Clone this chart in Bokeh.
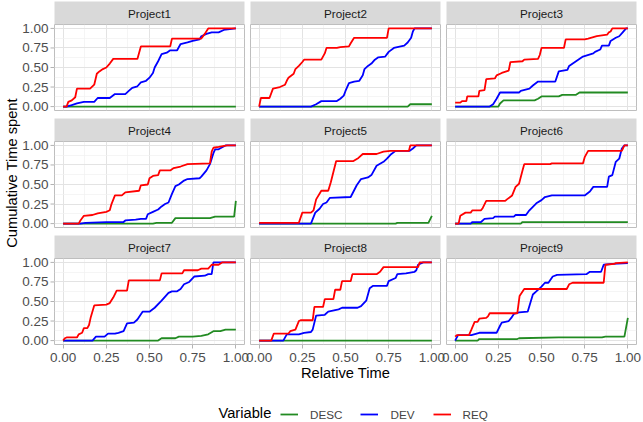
import math
from bokeh.plotting import figure
from bokeh.models import Range1d, FixedTicker, Label, Legend, LegendItem
from bokeh.core.properties import value
from bokeh.layouts import row, column
from bokeh.embed import file_html
from bokeh.resources import INLINE

PROJECTS = ["Project1", "Project2", "Project3", "Project4", "Project5",
            "Project6", "Project7", "Project8", "Project9"]
VARIABLES = ["DESC", "DEV", "REQ"]
COLORS = ["#228B22", "#0000FF", "#FF0000"]
TICKS = [0.0, 0.25, 0.5, 0.75, 1.0]
TICK_LABELS = ["0.00", "0.25", "0.50", "0.75", "1.00"]
MINOR_TICKS = [0.125, 0.375, 0.625, 0.875]

# (relative time, cumulative time spent) points
P1_DESC = [(0, 0), (1, 0)]
P1_DEV = [(0, 0), (0.02, 0), (0.05, 0.02), (0.08, 0.04), (0.12, 0.06), (0.18, 0.06), (0.20, 0.11), (0.27, 0.11),
          (0.30, 0.16), (0.36, 0.16), (0.38, 0.20), (0.40, 0.24), (0.43, 0.26), (0.45, 0.31), (0.48, 0.33),
          (0.50, 0.37), (0.52, 0.43), (0.53, 0.50), (0.55, 0.58), (0.57, 0.67), (0.60, 0.69), (0.62, 0.72),
          (0.66, 0.72), (0.68, 0.80), (0.72, 0.82), (0.75, 0.84), (0.79, 0.86), (0.80, 0.90), (0.83, 0.93),
          (0.86, 0.95), (0.90, 0.95), (0.93, 0.98), (1.0, 1.0)]
P1_REQ = [(0, 0), (0.02, 0), (0.03, 0.06), (0.05, 0.08), (0.07, 0.12), (0.08, 0.23), (0.156, 0.23), (0.18, 0.28),
          (0.195, 0.42), (0.21, 0.45), (0.23, 0.48), (0.25, 0.50), (0.27, 0.55), (0.29, 0.61), (0.43, 0.61),
          (0.45, 0.77), (0.62, 0.77), (0.63, 0.87), (0.80, 0.87), (0.82, 0.93), (0.84, 1.0), (1.0, 1.0)]

P2_DESC = [(0, 0), (0.86, 0), (0.875, 0.03), (1, 0.03)]
P2_DEV = [(0, 0), (0.30, 0), (0.33, 0.03), (0.36, 0.07), (0.45, 0.07), (0.47, 0.10), (0.49, 0.14), (0.50, 0.20),
          (0.52, 0.30), (0.55, 0.32), (0.58, 0.33), (0.60, 0.40), (0.61, 0.48), (0.63, 0.52), (0.65, 0.55),
          (0.67, 0.60), (0.69, 0.63), (0.73, 0.64), (0.75, 0.70), (0.78, 0.75), (0.80, 0.76), (0.84, 0.78),
          (0.86, 0.82), (0.88, 0.88), (0.89, 0.96), (0.90, 1.0), (1, 1)]
P2_REQ = [(0, 0), (0.01, 0.11), (0.06, 0.11), (0.08, 0.23), (0.12, 0.25), (0.15, 0.28), (0.16, 0.33), (0.17, 0.37),
          (0.20, 0.42), (0.21, 0.48), (0.23, 0.52), (0.25, 0.57), (0.26, 0.60), (0.36, 0.60), (0.38, 0.68),
          (0.39, 0.75), (0.45, 0.75), (0.47, 0.76), (0.52, 0.77), (0.53, 0.81), (0.55, 0.88), (0.74, 0.88),
          (0.75, 1.0), (1, 1)]

P3_DESC = [(0, 0), (0.25, 0), (0.26, 0.04), (0.28, 0.08), (0.46, 0.08), (0.48, 0.10), (0.50, 0.13), (0.60, 0.13),
           (0.62, 0.15), (0.70, 0.15), (0.72, 0.18), (1, 0.18)]
P3_DEV = [(0, 0), (0.20, 0), (0.22, 0.03), (0.24, 0.10), (0.26, 0.18), (0.37, 0.18), (0.38, 0.20), (0.43, 0.23),
          (0.45, 0.27), (0.48, 0.32), (0.58, 0.32), (0.60, 0.45), (0.65, 0.47), (0.66, 0.52), (0.70, 0.58),
          (0.74, 0.64), (0.80, 0.68), (0.81, 0.70), (0.84, 0.73), (0.85, 0.78), (0.89, 0.78), (0.90, 0.84),
          (0.93, 0.88), (0.95, 0.90), (0.97, 0.95), (0.99, 1.0), (1, 1)]
P3_REQ = [(0, 0.05), (0.03, 0.05), (0.04, 0.07), (0.065, 0.07), (0.07, 0.13), (0.135, 0.13), (0.14, 0.20),
          (0.17, 0.21), (0.18, 0.35), (0.23, 0.36), (0.24, 0.40), (0.27, 0.43), (0.31, 0.46), (0.32, 0.57),
          (0.39, 0.58), (0.40, 0.60), (0.48, 0.61), (0.49, 0.66), (0.50, 0.75), (0.63, 0.75), (0.64, 0.86),
          (0.75, 0.86), (0.77, 0.87), (0.82, 0.90), (0.88, 0.92), (0.89, 0.95), (0.90, 0.96), (0.91, 1.0), (1, 1)]

P4_DESC = [(0, 0), (0.52, 0), (0.54, 0.01), (0.63, 0.01), (0.65, 0.07), (0.85, 0.07), (0.88, 0.09), (0.99, 0.09),
           (1.0, 0.29)]
P4_DEV = [(0, 0), (0.10, 0), (0.13, 0.01), (0.25, 0.02), (0.35, 0.02), (0.36, 0.04), (0.42, 0.05), (0.45, 0.06),
          (0.48, 0.06), (0.49, 0.12), (0.52, 0.15), (0.55, 0.18), (0.57, 0.22), (0.59, 0.25), (0.61, 0.27),
          (0.63, 0.38), (0.65, 0.48), (0.67, 0.50), (0.70, 0.55), (0.72, 0.57), (0.79, 0.58), (0.80, 0.60),
          (0.83, 0.68), (0.85, 0.76), (0.87, 0.90), (0.88, 0.95), (0.90, 0.95), (0.94, 1.0), (1, 1)]
P4_REQ = [(0, 0), (0.09, 0), (0.10, 0.04), (0.12, 0.10), (0.17, 0.11), (0.20, 0.13), (0.25, 0.15), (0.27, 0.17),
          (0.28, 0.25), (0.30, 0.36), (0.34, 0.36), (0.36, 0.40), (0.44, 0.42), (0.45, 0.49), (0.49, 0.50),
          (0.50, 0.58), (0.52, 0.61), (0.55, 0.62), (0.56, 0.68), (0.62, 0.68), (0.64, 0.71), (0.68, 0.73),
          (0.72, 0.76), (0.85, 0.77), (0.86, 0.92), (0.87, 0.97), (0.90, 0.98), (0.95, 1.0), (1, 1)]

P5_DESC = [(0, 0), (0.79, 0), (0.80, 0.01), (0.98, 0.01), (1.0, 0.10)]
P5_DEV = [(0, 0), (0.30, 0), (0.325, 0.14), (0.35, 0.19), (0.37, 0.25), (0.39, 0.27), (0.41, 0.33), (0.53, 0.34),
          (0.565, 0.49), (0.59, 0.57), (0.63, 0.59), (0.65, 0.62), (0.68, 0.74), (0.72, 0.79), (0.74, 0.83),
          (0.76, 0.88), (0.79, 0.93), (0.87, 0.93), (0.89, 0.96), (0.91, 1.0), (1, 1)]
P5_REQ = [(0, 0.01), (0.23, 0.01), (0.25, 0.14), (0.30, 0.14), (0.315, 0.17), (0.33, 0.31), (0.36, 0.42),
          (0.40, 0.42), (0.415, 0.53), (0.446, 0.80), (0.546, 0.80), (0.575, 0.84), (0.60, 0.89), (0.68, 0.89),
          (0.72, 0.92), (0.76, 0.93), (0.867, 0.93), (0.875, 1.0), (1, 1)]

P6_DESC = [(0, 0), (0.38, 0), (0.39, 0.02), (1, 0.02)]
P6_DEV = [(0, 0), (0.09, 0), (0.10, 0.02), (0.15, 0.02), (0.17, 0.06), (0.22, 0.07), (0.23, 0.09), (0.34, 0.09),
          (0.35, 0.11), (0.41, 0.11), (0.43, 0.17), (0.47, 0.26), (0.50, 0.30), (0.52, 0.34), (0.56, 0.36),
          (0.75, 0.36), (0.78, 0.41), (0.80, 0.47), (0.88, 0.47), (0.89, 0.60), (0.91, 0.62), (0.93, 0.79),
          (0.95, 0.83), (0.965, 0.96), (0.98, 1.0), (1, 1)]
P6_REQ = [(0, 0), (0.02, 0), (0.03, 0.10), (0.06, 0.14), (0.09, 0.14), (0.10, 0.17), (0.15, 0.17), (0.16, 0.20),
          (0.18, 0.29), (0.29, 0.29), (0.30, 0.31), (0.33, 0.36), (0.35, 0.47), (0.37, 0.51), (0.39, 0.68),
          (0.40, 0.76), (0.55, 0.76), (0.56, 0.77), (0.74, 0.77), (0.75, 0.85), (0.77, 0.93), (0.965, 0.93),
          (0.98, 1.0), (1, 1)]

P7_DESC = [(0, 0), (0.55, 0), (0.57, 0.03), (0.65, 0.03), (0.67, 0.05), (0.75, 0.05), (0.80, 0.06), (0.84, 0.08),
           (0.87, 0.12), (0.91, 0.12), (0.94, 0.14), (1, 0.14)]
P7_DEV = [(0, 0), (0.17, 0), (0.19, 0.05), (0.24, 0.05), (0.26, 0.09), (0.30, 0.09), (0.32, 0.10), (0.35, 0.12),
          (0.37, 0.22), (0.41, 0.23), (0.43, 0.27), (0.46, 0.37), (0.50, 0.37), (0.53, 0.42), (0.57, 0.51),
          (0.61, 0.61), (0.63, 0.63), (0.66, 0.63), (0.68, 0.66), (0.70, 0.72), (0.73, 0.75), (0.76, 0.82),
          (0.82, 0.83), (0.84, 0.85), (0.86, 0.85), (0.87, 1.0), (1, 1)]
P7_REQ = [(0, 0), (0.01, 0.03), (0.02, 0.04), (0.08, 0.04), (0.09, 0.08), (0.11, 0.10), (0.12, 0.16), (0.14, 0.16),
          (0.15, 0.20), (0.16, 0.30), (0.18, 0.45), (0.25, 0.46), (0.27, 0.48), (0.29, 0.55), (0.31, 0.64),
          (0.37, 0.64), (0.38, 0.77), (0.56, 0.77), (0.57, 0.86), (0.69, 0.86), (0.70, 0.90), (0.78, 0.90),
          (0.80, 0.92), (0.84, 0.92), (0.86, 0.97), (0.90, 0.97), (0.92, 1.0), (1, 1)]

P8_DESC = [(0, 0), (1, 0)]
P8_DEV = [(0, 0), (0.14, 0), (0.16, 0.08), (0.23, 0.08), (0.26, 0.10), (0.30, 0.11), (0.31, 0.14), (0.33, 0.32),
          (0.38, 0.33), (0.40, 0.37), (0.44, 0.39), (0.46, 0.40), (0.48, 0.42), (0.57, 0.42), (0.59, 0.44),
          (0.62, 0.51), (0.64, 0.67), (0.66, 0.70), (0.74, 0.70), (0.75, 0.76), (0.79, 0.80), (0.80, 0.85),
          (0.85, 0.86), (0.90, 0.88), (0.91, 0.90), (0.92, 0.97), (0.95, 1.0), (1, 1)]
P8_REQ = [(0, 0), (0.07, 0), (0.085, 0.09), (0.17, 0.09), (0.18, 0.12), (0.21, 0.14), (0.23, 0.25), (0.24, 0.26),
          (0.31, 0.26), (0.32, 0.43), (0.37, 0.43), (0.38, 0.53), (0.43, 0.53), (0.44, 0.65), (0.47, 0.65),
          (0.48, 0.76), (0.53, 0.76), (0.54, 0.85), (0.68, 0.85), (0.70, 0.88), (0.72, 0.94), (0.92, 0.94),
          (0.93, 1.0), (1, 1)]

P9_DESC = [(0, 0), (0.13, 0), (0.14, 0.02), (0.36, 0.02), (0.37, 0.03), (0.60, 0.04), (0.85, 0.04), (0.87, 0.05),
           (0.98, 0.05), (1.0, 0.29)]
P9_DEV = [(0, 0), (0.017, 0.07), (0.094, 0.07), (0.14, 0.10), (0.24, 0.10), (0.26, 0.19), (0.27, 0.23),
          (0.31, 0.25), (0.325, 0.29), (0.34, 0.34), (0.37, 0.36), (0.42, 0.37), (0.45, 0.59), (0.47, 0.63),
          (0.50, 0.69), (0.52, 0.74), (0.54, 0.74), (0.565, 0.82), (0.59, 0.84), (0.76, 0.85), (0.78, 0.88),
          (0.845, 0.88), (0.86, 0.97), (0.91, 0.98), (1.0, 0.99)]
P9_REQ = [(0, 0.05), (0.01, 0.07), (0.08, 0.07), (0.094, 0.14), (0.113, 0.24), (0.13, 0.24), (0.14, 0.28),
          (0.18, 0.29), (0.19, 0.31), (0.20, 0.35), (0.36, 0.35), (0.373, 0.57), (0.40, 0.66), (0.646, 0.66),
          (0.66, 0.72), (0.68, 0.74), (0.86, 0.74), (0.87, 0.97), (0.92, 0.98), (0.93, 0.99), (1.0, 1.0)]

SERIES = [
    [P1_DESC, P1_DEV, P1_REQ], [P2_DESC, P2_DEV, P2_REQ], [P3_DESC, P3_DEV, P3_REQ],
    [P4_DESC, P4_DEV, P4_REQ], [P5_DESC, P5_DEV, P5_REQ], [P6_DESC, P6_DEV, P6_REQ],
    [P7_DESC, P7_DEV, P7_REQ], [P8_DESC, P8_DEV, P8_REQ], [P9_DESC, P9_DEV, P9_REQ],
]

FONT = "Liberation Sans"
TOTAL_W = 643
LEFT_W = 54       # y title + y tick labels
W = 190           # panel frame width
H = 86            # panel frame height
SH = 23           # strip height
TOP = 1
GAP_V = 8
COL_GAP = 6
TICK_BAND = 5     # room under the last row for the x tick marks
FH = 72           # bottom area: x tick labels, x title, legend
XPAD = 0.05

STRIP_FILL = "#D9D9D9"
BORDER = "#BEBEBE"
GRID_MAJOR = "#E3E3E3"
GRID_MINOR = "#F0F0F0"
TICK_COLOR = "#B3B3B3"
LABEL_COLOR = "#4D4D4D"
GRID_H = TOP + 3 * (SH + H) + 2 * GAP_V + TICK_BAND


def borders(c):
    left = 0 if c == 0 else COL_GAP // 2
    right = COL_GAP // 2 if c < 2 else TOTAL_W - LEFT_W - 3 * W - 2 * COL_GAP
    return left, right


def blank(fig):
    fig.grid.visible = False
    fig.outline_line_color = None


def make_strip(r, c, name):
    left, right = borders(c)
    s = figure(frame_width=W, frame_height=SH, x_range=Range1d(0, 1), y_range=Range1d(0, 1),
               x_axis_location=None, y_axis_location=None, toolbar_location=None, tools="",
               output_backend="svg", min_border=0, min_border_left=left, min_border_right=right,
               min_border_top=TOP if r == 0 else 0, min_border_bottom=0)
    blank(s)
    s.background_fill_color = STRIP_FILL
    s.add_layout(Label(x=0.5, y=0.5, text=name, text_align="center", text_baseline="middle",
                       text_font=FONT, text_font_size="11.7px", text_color="#1A1A1A"))
    return s


def make_panel(r, c, series):
    left, right = borders(c)
    p = figure(frame_width=W, frame_height=H, x_range=Range1d(-XPAD, 1 + XPAD), y_range=Range1d(-XPAD, 1 + XPAD),
               x_axis_location="below" if r == 2 else None, y_axis_location=None,
               toolbar_location=None, tools="", output_backend="svg", min_border=0,
               min_border_left=left, min_border_right=right, min_border_top=0,
               min_border_bottom=GAP_V if r < 2 else TICK_BAND)
    p.outline_line_color = BORDER
    p.outline_line_width = 1
    for g in (p.xgrid, p.ygrid):
        g.ticker = FixedTicker(ticks=TICKS, minor_ticks=MINOR_TICKS)
        g.grid_line_color = GRID_MAJOR
        g.grid_line_width = 1
        g.minor_grid_line_color = GRID_MINOR
        g.minor_grid_line_width = 0.7
    for ax in p.xaxis:
        # tick marks only; the labels are drawn in the bottom area so none is clipped
        ax.ticker = FixedTicker(ticks=TICKS, minor_ticks=MINOR_TICKS)
        ax.axis_line_color = None
        ax.minor_tick_line_color = None
        ax.major_tick_line_color = TICK_COLOR
        ax.major_tick_out = 4
        ax.major_tick_in = 0
        ax.major_label_standoff = 0
        ax.major_label_text_font_size = "0px"
        ax.major_label_text_color = None
    for pts, col in zip(series, COLORS):
        xs = [a for a, _ in pts]
        ys = [b for _, b in pts]
        p.line(xs, ys, line_color=col, line_width=1.8)
    return p


rows = []
for r in range(3):
    strips, panels = [], []
    for c in range(3):
        i = r * 3 + c
        strips.append(make_strip(r, c, PROJECTS[i]))
        panels.append(make_panel(r, c, SERIES[i]))
    rows.append(row(*strips))
    rows.append(row(*panels))
grid = column(*rows)

# left area: y title and the shared y-axis ticks/labels of every row
left = figure(frame_width=LEFT_W, frame_height=GRID_H, x_range=Range1d(0, LEFT_W), y_range=Range1d(0, GRID_H),
              x_axis_location=None, y_axis_location=None, toolbar_location=None, tools="",
              output_backend="svg", min_border=0)
blank(left)
ypx = (1 + 2 * XPAD) / H
for r in range(3):
    bottom_px = GRID_H - (TOP + SH + r * (SH + H + GAP_V) + H)
    start = -XPAD - bottom_px * ypx
    name = "row%d" % r
    left.extra_y_ranges[name] = Range1d(start, start + GRID_H * ypx)
    left.segment(x0=[LEFT_W - 4] * len(TICKS), x1=[LEFT_W] * len(TICKS), y0=TICKS, y1=TICKS,
                 y_range_name=name, line_color=TICK_COLOR, line_width=1)
    left.text(x=[LEFT_W - 6] * len(TICKS), y=TICKS, text=TICK_LABELS, y_range_name=name,
              text_align="right", text_baseline="middle", text_font=value(FONT),
              text_font_size=value("13.5px"), text_color=LABEL_COLOR)
panels_mid = GRID_H - (TOP + (3 * (SH + H) + 2 * GAP_V) / 2)
left.add_layout(Label(x=11, y=panels_mid, text="Cumulative Time spent", angle=math.pi / 2, text_align="center",
                      text_baseline="middle", text_font=FONT, text_font_size="14.7px", text_color="#000000"))

# bottom area: x tick labels of the last row, x title and legend
bottom = figure(frame_width=TOTAL_W, frame_height=FH, x_range=Range1d(0, TOTAL_W), y_range=Range1d(0, FH),
                x_axis_location=None, y_axis_location=None, toolbar_location=None, tools="",
                output_backend="svg", min_border=0)
blank(bottom)
xpx = (1 + 2 * XPAD) / W
for c in range(3):
    left_px = LEFT_W + c * (W + COL_GAP)
    start = -XPAD - left_px * xpx
    name = "col%d" % c
    bottom.extra_x_ranges[name] = Range1d(start, start + TOTAL_W * xpx)
    bottom.text(x=TICKS, y=[FH - 8] * len(TICKS), text=TICK_LABELS, x_range_name=name,
                text_align="center", text_baseline="middle", text_font=value(FONT),
                text_font_size=value("13.5px"), text_color=LABEL_COLOR)

mid = LEFT_W + (3 * W + 2 * COL_GAP) / 2
bottom.add_layout(Label(x=mid, y=FH - 23, text="Relative Time", text_align="center", text_baseline="middle",
                        text_font=FONT, text_font_size="14.7px", text_color="#000000"))
bottom.add_layout(Label(x=218, y=9, text="Variable", text_align="left", text_baseline="middle",
                        text_font=FONT, text_font_size="14.7px", text_color="#000000"))
items = []
for var, col in zip(VARIABLES, COLORS):
    rr = bottom.line(x=[float("nan")], y=[float("nan")], line_color=col, line_width=1.8)
    items.append(LegendItem(label=var, renderers=[rr]))
legend = Legend(items=items, orientation="horizontal", location=(280, 0),
                label_text_font=FONT, label_text_font_size="11.7px", label_standoff=12,
                glyph_width=18, glyph_height=14, label_height=14, spacing=18, padding=2, margin=0,
                border_line_color=None, background_fill_alpha=0)
bottom.add_layout(legend)

layout = column(row(left, grid), bottom)
open("out.html", "w").write(file_html(layout, INLINE))
